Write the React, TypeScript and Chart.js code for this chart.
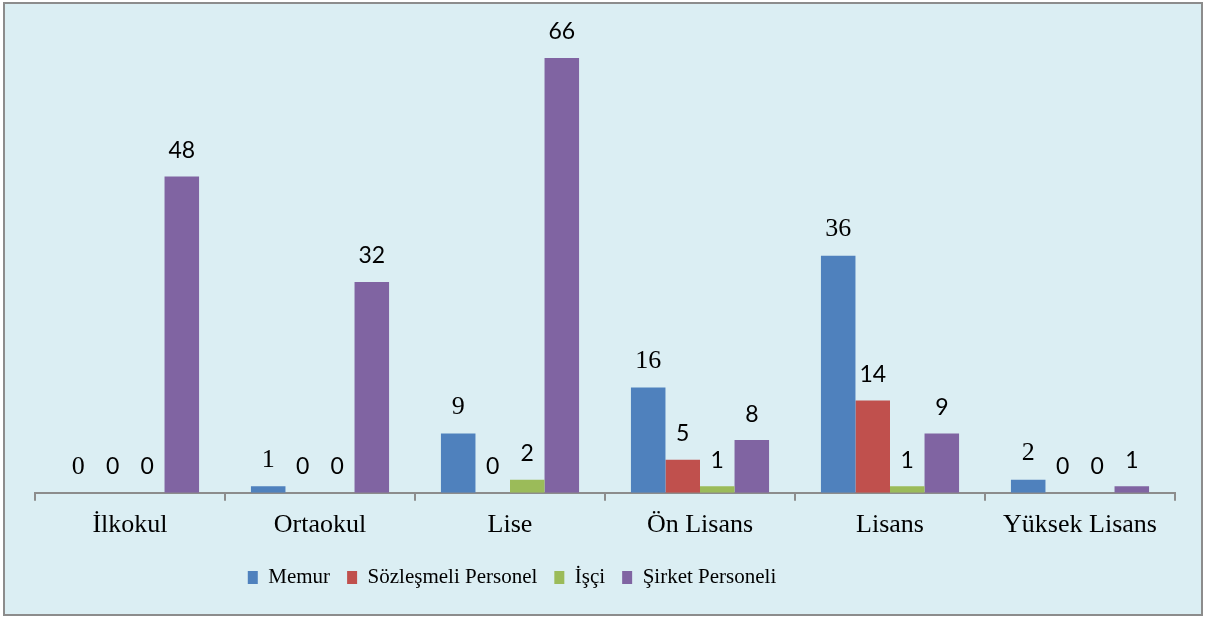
import React, { useEffect, useRef } from "react";
import { Chart, registerables } from "chart.js";

Chart.register(...registerables);

const categories = ["İlkokul", "Ortaokul", "Lise", "Ön Lisans", "Lisans", "Yüksek Lisans"];
const seriesNames = ["Memur", "Sözleşmeli Personel", "İşçi", "Şirket Personeli"];
const memur = [0, 1, 9, 16, 36, 2];
const sozlesmeli = [0, 0, 0, 5, 14, 0];
const isci = [0, 0, 2, 1, 1, 0];
const sirket = [48, 32, 66, 8, 9, 1];
const colors = ["#4F81BD", "#C0504D", "#9BBB59", "#8064A2"];
const labelFonts = [
  "26px 'Liberation Serif', 'Times New Roman', serif",
  "23px Lato, 'Noto Sans', sans-serif",
  "23px Lato, 'Noto Sans', sans-serif",
  "23px Lato, 'Noto Sans', sans-serif",
];

const valueLabels = {
  id: "valueLabels",
  afterDatasetsDraw(chart: any) {
    const ctx = chart.ctx;
    ctx.save();
    ctx.fillStyle = "#000";
    ctx.textAlign = "center";
    ctx.textBaseline = "middle";
    chart.data.datasets.forEach((ds: any, i: number) => {
      const meta = chart.getDatasetMeta(i);
      ctx.font = labelFonts[i];
      meta.data.forEach((bar: any, j: number) => {
        ctx.fillText(String(ds.data[j]), bar.x, bar.y - 26);
      });
    });
    ctx.restore();
  },
};

const legendShift = {
  id: "legendShift",
  afterLayout(chart: any) {
    if (chart.legend) {
      chart.legend.left -= 93;
      chart.legend.right -= 93;
    }
  },
};

export default function App() {
  const ref = useRef<HTMLCanvasElement>(null);
  useEffect(() => {
    const all = [memur, sozlesmeli, isci, sirket];
    const chart = new Chart(ref.current!, {
      type: "bar",
      data: {
        labels: categories,
        datasets: seriesNames.map((name, i) => ({
          label: name,
          data: all[i],
          backgroundColor: colors[i],
          borderWidth: 0,
          barPercentage: 1,
          categoryPercentage: 0.727,
        })),
      },
      options: {
        animation: false,
        responsive: false,
        maintainAspectRatio: false,
        layout: { padding: { left: 30, right: 26, top: 20, bottom: 16 } },
        scales: {
          x: {
            border: { display: true, color: "#8c8c8c", width: 2 },
            grid: {
              display: true,
              offset: true,
              drawOnChartArea: false,
              drawTicks: true,
              tickLength: 8,
              color: "#8c8c8c",
              lineWidth: 2,
            },
            ticks: {
              color: "#000",
              padding: 9,
              font: { family: "'Liberation Serif', 'Times New Roman', serif", size: 26 },
            },
          },
          y: {
            display: false,
            min: 0,
            max: 71.17,
          },
        },
        plugins: {
          legend: {
            position: "bottom",
            labels: {
              color: "#000",
              boxWidth: 10,
              boxHeight: 13,
              padding: 17,
              font: { family: "'Liberation Serif', 'Times New Roman', serif", size: 21 },
            },
          },
          tooltip: { enabled: false },
        },
      },
      plugins: [valueLabels, legendShift],
    });
    return () => chart.destroy();
  }, []);

  return (
    <div
      style={{
        position: "absolute",
        left: 3,
        top: 2,
        width: 1200,
        height: 614,
        boxSizing: "border-box",
        border: "2px solid #8c8c8c",
        background: "#DBEEF3",
      }}
    >
      <canvas ref={ref} width={1196} height={610} style={{ display: "block" }} />
    </div>
  );
}
